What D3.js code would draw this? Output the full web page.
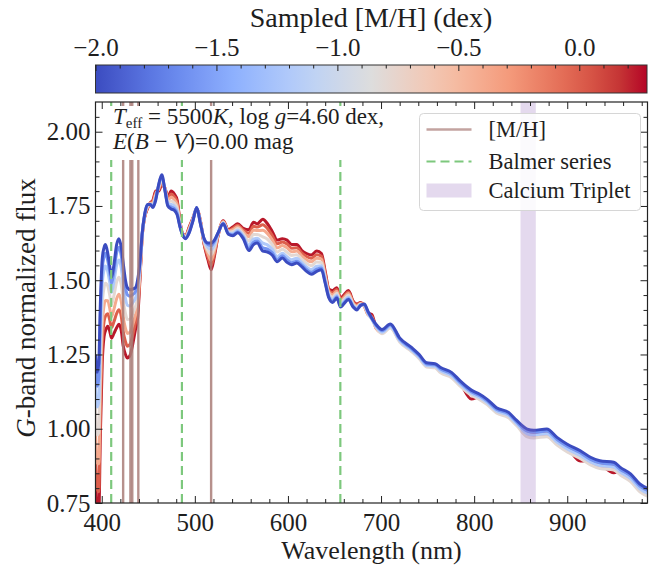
<!DOCTYPE html>
<html>
<head>
<meta charset="utf-8">
<script src="https://cdn.jsdelivr.net/npm/d3@7"></script>
<style>
body { margin: 0; background: #fff; }
svg text { font-family: "Liberation Serif", "DejaVu Serif", serif; fill: #1e1e1e; }
</style>
</head>
<body>
<svg id="chart" width="649" height="567"></svg>
<script>
// ---- data ----
var wavelength = [393.3, 395, 396.8, 398.5, 400.5, 402.5, 404, 406.5, 408.5, 410.5, 413, 416, 418.5, 421, 423, 425.5, 427.5, 430.5, 433, 436, 438.5, 441,
  443.5, 446, 449, 452, 455, 458, 461, 464.5, 468, 471, 474.5, 478, 481, 484, 486.5, 490, 494, 498, 502, 506, 510, 514, 517.5, 521, 525,
  530.5, 536, 541, 546, 552, 558, 563, 567, 573, 578, 583, 588.5, 594, 599, 604, 609.5, 615, 620, 625, 631, 636, 640, 644, 648, 652.5, 656.5, 660, 665, 670, 674, 678, 682, 686, 690, 695,
  701, 710, 720, 733, 741, 749, 758, 764, 776, 785, 797, 806, 814, 824, 837, 846, 857, 864, 878, 889, 900, 914, 925, 935, 950, 957, 968, 978, 988];

var metallicity = [-2.0, -1.6, -1.2, -0.8, -0.4, 0.0, 0.25];

var fluxM20 = [1.25, 1.19, 1.22, 1.42, 1.57, 1.61, 1.62, 1.59, 1.55, 1.51, 1.55, 1.62, 1.64, 1.61, 1.56, 1.50, 1.475, 1.468, 1.47, 1.474, 1.50, 1.56,
  1.66, 1.72, 1.755, 1.755, 1.745, 1.77, 1.82, 1.855, 1.80, 1.75, 1.74, 1.735, 1.72, 1.68, 1.655, 1.64, 1.66, 1.70, 1.745, 1.69, 1.64, 1.625, 1.625, 1.635, 1.66,
  1.69, 1.655, 1.65, 1.66, 1.64, 1.60, 1.62, 1.625, 1.598, 1.595, 1.585, 1.562, 1.575, 1.56, 1.552, 1.558, 1.545, 1.53, 1.52, 1.53, 1.535, 1.49, 1.44, 1.425, 1.44, 1.41, 1.42, 1.435, 1.41, 1.40, 1.415, 1.42, 1.395, 1.373, 1.35,
  1.334, 1.353, 1.306, 1.273, 1.25, 1.222, 1.219, 1.206, 1.189, 1.161, 1.13, 1.116, 1.099, 1.071, 1.055, 1.027, 0.999, 0.995, 0.999, 0.971, 0.948, 0.926, 0.904, 0.892, 0.887, 0.87, 0.848, 0.814, 0.797];

var fluxM16 = [1.211, 1.143, 1.168, 1.376, 1.535, 1.58, 1.591, 1.566, 1.528, 1.49, 1.527, 1.592, 1.611, 1.582, 1.532, 1.475, 1.451, 1.446, 1.451, 1.46, 1.487, 1.554,
  1.659, 1.719, 1.754, 1.756, 1.748, 1.773, 1.818, 1.852, 1.801, 1.753, 1.746, 1.741, 1.725, 1.682, 1.656, 1.641, 1.662, 1.701, 1.745, 1.691, 1.638, 1.62, 1.616, 1.63, 1.659,
  1.691, 1.657, 1.653, 1.663, 1.644, 1.607, 1.628, 1.632, 1.609, 1.605, 1.593, 1.569, 1.582, 1.568, 1.559, 1.564, 1.551, 1.536, 1.527, 1.537, 1.541, 1.494, 1.443, 1.429, 1.444, 1.413, 1.423, 1.438, 1.412, 1.402, 1.416, 1.418, 1.392, 1.371, 1.346,
  1.33, 1.349, 1.302, 1.269, 1.246, 1.218, 1.215, 1.201, 1.184, 1.156, 1.125, 1.111, 1.094, 1.066, 1.05, 1.022, 0.992, 0.988, 0.992, 0.964, 0.941, 0.919, 0.897, 0.885, 0.88, 0.863, 0.841, 0.807, 0.79];

var fluxM12 = [1.153, 1.073, 1.09, 1.31, 1.483, 1.535, 1.548, 1.529, 1.495, 1.459, 1.493, 1.55, 1.568, 1.54, 1.49, 1.438, 1.416, 1.413, 1.423, 1.438, 1.468, 1.545,
  1.658, 1.718, 1.751, 1.756, 1.751, 1.778, 1.815, 1.846, 1.803, 1.758, 1.755, 1.749, 1.733, 1.685, 1.656, 1.643, 1.665, 1.703, 1.744, 1.693, 1.635, 1.611, 1.603, 1.621, 1.658,
  1.693, 1.659, 1.658, 1.668, 1.649, 1.618, 1.639, 1.641, 1.625, 1.619, 1.605, 1.58, 1.591, 1.579, 1.569, 1.574, 1.559, 1.545, 1.536, 1.547, 1.549, 1.50, 1.448, 1.435, 1.449, 1.418, 1.428, 1.443, 1.415, 1.405, 1.418, 1.416, 1.389, 1.369, 1.342,
  1.325, 1.344, 1.297, 1.264, 1.241, 1.213, 1.21, 1.195, 1.178, 1.15, 1.119, 1.105, 1.088, 1.06, 1.044, 1.016, 0.983, 0.979, 0.983, 0.955, 0.932, 0.91, 0.888, 0.876, 0.871, 0.854, 0.832, 0.798, 0.781];

var fluxM08 = [1.075, 0.979, 0.986, 1.222, 1.413, 1.475, 1.49, 1.48, 1.451, 1.418, 1.447, 1.494, 1.51, 1.484, 1.434, 1.388, 1.368, 1.369, 1.385, 1.409, 1.442, 1.533,
  1.656, 1.716, 1.748, 1.757, 1.756, 1.784, 1.811, 1.839, 1.805, 1.764, 1.767, 1.76, 1.743, 1.689, 1.657, 1.645, 1.669, 1.705, 1.743, 1.695, 1.631, 1.60, 1.585, 1.61, 1.656,
  1.695, 1.662, 1.664, 1.674, 1.656, 1.632, 1.654, 1.654, 1.646, 1.638, 1.621, 1.595, 1.604, 1.594, 1.583, 1.586, 1.57, 1.557, 1.549, 1.561, 1.56, 1.508, 1.454, 1.443, 1.456, 1.424, 1.434, 1.449, 1.419, 1.409, 1.42, 1.414, 1.386, 1.37, 1.339,
  1.32, 1.339, 1.292, 1.259, 1.236, 1.208, 1.205, 1.188, 1.171, 1.143, 1.112, 1.098, 1.081, 1.053, 1.037, 1.009, 0.973, 0.969, 0.973, 0.945, 0.922, 0.90, 0.878, 0.866, 0.861, 0.844, 0.822, 0.788, 0.771];

var fluxM04 = [0.997, 0.885, 0.882, 1.134, 1.343, 1.415, 1.432, 1.431, 1.407, 1.377, 1.401, 1.438, 1.453, 1.428, 1.378, 1.338, 1.321, 1.325, 1.347, 1.38, 1.416, 1.521,
  1.654, 1.714, 1.745, 1.758, 1.761, 1.79, 1.807, 1.832, 1.807, 1.77, 1.779, 1.771, 1.753, 1.693, 1.658, 1.647, 1.673, 1.707, 1.742, 1.697, 1.627, 1.589, 1.567, 1.599, 1.654,
  1.697, 1.665, 1.67, 1.68, 1.663, 1.646, 1.669, 1.667, 1.668, 1.657, 1.637, 1.609, 1.617, 1.609, 1.596, 1.598, 1.581, 1.569, 1.562, 1.574, 1.571, 1.516, 1.46, 1.451, 1.463, 1.43, 1.44, 1.455, 1.423, 1.413, 1.422, 1.413, 1.384, 1.374, 1.337,
  1.323, 1.342, 1.295, 1.262, 1.239, 1.211, 1.208, 1.192, 1.175, 1.147, 1.116, 1.102, 1.085, 1.057, 1.041, 1.013, 0.979, 0.975, 0.979, 0.951, 0.928, 0.906, 0.884, 0.872, 0.867, 0.85, 0.828, 0.794, 0.777];

var fluxP00 = [0.926, 0.80, 0.788, 1.055, 1.28, 1.361, 1.379, 1.387, 1.367, 1.34, 1.359, 1.388, 1.401, 1.378, 1.328, 1.293, 1.278, 1.285, 1.312, 1.354, 1.392, 1.51,
  1.652, 1.712, 1.743, 1.759, 1.766, 1.795, 1.803, 1.826, 1.808, 1.775, 1.79, 1.781, 1.762, 1.697, 1.659, 1.648, 1.677, 1.708, 1.741, 1.698, 1.623, 1.579, 1.55, 1.589, 1.652,
  1.698, 1.667, 1.675, 1.685, 1.669, 1.658, 1.682, 1.679, 1.687, 1.674, 1.651, 1.623, 1.629, 1.622, 1.608, 1.609, 1.591, 1.58, 1.574, 1.586, 1.581, 1.523, 1.465, 1.458, 1.469, 1.435, 1.445, 1.46, 1.427, 1.417, 1.423, 1.413, 1.384, 1.379, 1.337,
  1.326, 1.345, 1.298, 1.265, 1.242, 1.214, 1.211, 1.196, 1.179, 1.151, 1.12, 1.106, 1.089, 1.061, 1.045, 1.017, 0.985, 0.981, 0.985, 0.957, 0.934, 0.912, 0.89, 0.878, 0.873, 0.856, 0.834, 0.80, 0.783];

var fluxP25 = [0.86, 0.72, 0.70, 0.98, 1.22, 1.31, 1.33, 1.345, 1.33, 1.305, 1.32, 1.34, 1.352, 1.33, 1.28, 1.25, 1.238, 1.248, 1.28, 1.33, 1.37, 1.50,
  1.65, 1.71, 1.74, 1.76, 1.77, 1.80, 1.80, 1.82, 1.81, 1.78, 1.80, 1.79, 1.77, 1.70, 1.66, 1.65, 1.68, 1.71, 1.74, 1.70, 1.62, 1.57, 1.535, 1.58, 1.65,
  1.70, 1.67, 1.68, 1.69, 1.675, 1.67, 1.695, 1.69, 1.705, 1.69, 1.665, 1.635, 1.64, 1.635, 1.62, 1.62, 1.60, 1.59, 1.585, 1.598, 1.59, 1.53, 1.47, 1.465, 1.475, 1.44, 1.45, 1.465, 1.43, 1.42, 1.425, 1.415, 1.39, 1.385, 1.34,
  1.328, 1.347, 1.30, 1.267, 1.244, 1.216, 1.213, 1.198, 1.181, 1.153, 1.10, 1.108, 1.091, 1.063, 1.047, 1.019, 0.988, 0.984, 0.988, 0.96, 0.937, 0.891, 0.893, 0.881, 0.852, 0.859, 0.837, 0.803, 0.786];

var fluxes = [fluxM20, fluxM16, fluxM12, fluxM08, fluxM04, fluxP00, fluxP25];

var metalLines = [423.0, 430.8, 432.8, 439.3, 517.5];
var balmerLines = [410.17, 486.13, 656.28];
var caTriplet = [849.8, 866.2];

var xTicks = [400, 500, 600, 700, 800, 900];
var yTicks = [0.75, 1.00, 1.25, 1.50, 1.75, 2.00];
var cbarTicks = [-2.0, -1.5, -1.0, -0.5, 0.0];

// ---- layout ----
var svg = d3.select("#chart");
var pL = 95.5, pR = 647.5, pT = 102, pB = 503;

var x = d3.scaleLinear().domain([393.3, 986.2]).range([pL, pR]);
var y = d3.scaleLinear().domain([0.75, 2.1]).range([pB, pT]);
var cb = d3.scaleLinear().domain([-2.0, 0.28]).range([pL, 647]);

// matplotlib coolwarm
var coolwarm = d3.piecewise(d3.interpolateLab, ["rgb(59,76,192)", "rgb(98,130,234)", "rgb(141,176,254)", "rgb(184,208,249)",
  "rgb(221,221,221)", "rgb(245,196,173)", "rgb(244,154,123)", "rgb(222,96,77)", "rgb(180,4,38)"]);
function mhColor(m) { return coolwarm((m - cb.domain()[0]) / (cb.domain()[1] - cb.domain()[0])); }

var minorX = d3.range(400, 987, 20).filter(function(v){ return v % 100 != 0; });
var minorY = d3.range(0.8, 2.1, 0.05).filter(function(v){ return Math.abs(v * 4 - Math.round(v * 4)) > 0.01; });
var minorC = d3.range(-1.9, 0.28, 0.1).filter(function(v){ return Math.abs(v * 2 - Math.round(v * 2)) > 0.01; });

svg.append("clipPath").attr("id", "clip")
  .append("rect").attr("x", pL).attr("y", pT).attr("width", pR - pL).attr("height", pB - pT);

var plot = svg.append("g").attr("clip-path", "url(#clip)");

// spectra: metal-rich first, metal-poor on top
var line = d3.line()
  .x(function(d){ return x(d[0]); })
  .y(function(d){ return y(d[1]); })
  .curve(d3.curveMonotoneX);

for (var i = fluxes.length - 1; i >= 0; i--) {
  var pts = wavelength.map(function(w, j){ return [w, fluxes[i][j]]; });
  plot.append("path").datum(pts)
    .attr("d", line)
    .attr("fill", "none")
    .attr("stroke", mhColor(metallicity[i]))
    .attr("stroke-width", 3)
    .attr("stroke-linejoin", "round");
}

plot.append("rect")
  .attr("x", x(caTriplet[0])).attr("width", x(caTriplet[1]) - x(caTriplet[0]))
  .attr("y", pT).attr("height", pB - pT)
  .attr("fill", "#9467bd").attr("fill-opacity", 0.25);

plot.selectAll(".balmer").data(balmerLines).enter().append("line")
  .attr("x1", x).attr("x2", x).attr("y1", pT).attr("y2", pB)
  .attr("stroke", "rgb(125,200,125)").attr("stroke-width", 2.2).attr("stroke-dasharray", "9,5");

plot.selectAll(".metal").data(metalLines).enter().append("line")
  .attr("x1", x).attr("x2", x).attr("y1", pT).attr("y2", pB)
  .attr("stroke", "#a97c78").attr("stroke-opacity", 0.85).attr("stroke-width", 2.4);

// annotation box
svg.append("rect").attr("x", 100).attr("y", 106).attr("width", 292).attr("height", 54).attr("fill", "#fff");
var ann = svg.append("text").attr("x", 113).attr("y", 124).style("font-size", "23px");
ann.append("tspan").style("font-style", "italic").text("T");
ann.append("tspan").attr("dy", 4).style("font-size", "15px").text("eff");
ann.append("tspan").attr("dy", -4).text(" = 5500");
ann.append("tspan").style("font-style", "italic").text("K");
ann.append("tspan").text(", log ");
ann.append("tspan").style("font-style", "italic").text("g");
ann.append("tspan").text("=4.60 dex,");
var ann2 = svg.append("text").attr("x", 113).attr("y", 149).style("font-size", "23px");
ann2.append("tspan").style("font-style", "italic").text("E");
ann2.append("tspan").text("(");
ann2.append("tspan").style("font-style", "italic").text("B");
ann2.append("tspan").text(" \u2212 ");
ann2.append("tspan").style("font-style", "italic").text("V");
ann2.append("tspan").text(")=0.00 mag");

// axes, ticks inward on all four sides
function styleAxis(g) {
  g.select(".domain").remove();
  g.selectAll(".tick line").attr("stroke", "#222");
  g.selectAll(".tick text").attr("fill", "#1e1e1e").style("font-family", "'Liberation Serif', serif").style("font-size", "25px");
}
svg.append("g").attr("transform", "translate(0," + pB + ")")
  .call(d3.axisBottom(x).tickValues(xTicks).tickSizeInner(-7).tickSizeOuter(0).tickPadding(10).tickFormat(d3.format("d")))
  .call(styleAxis);
svg.append("g").attr("transform", "translate(0," + pB + ")")
  .call(d3.axisBottom(x).tickValues(minorX).tickSizeInner(-4).tickSizeOuter(0).tickFormat(""))
  .call(styleAxis);
svg.append("g").attr("transform", "translate(0," + pT + ")")
  .call(d3.axisTop(x).tickValues(xTicks).tickSizeInner(-7).tickSizeOuter(0).tickFormat(""))
  .call(styleAxis);
svg.append("g").attr("transform", "translate(0," + pT + ")")
  .call(d3.axisTop(x).tickValues(minorX).tickSizeInner(-4).tickSizeOuter(0).tickFormat(""))
  .call(styleAxis);
svg.append("g").attr("transform", "translate(" + pL + ",0)")
  .call(d3.axisLeft(y).tickValues(yTicks).tickSizeInner(-7).tickSizeOuter(0).tickPadding(5).tickFormat(d3.format(".2f")))
  .call(styleAxis);
svg.append("g").attr("transform", "translate(" + pL + ",0)")
  .call(d3.axisLeft(y).tickValues(minorY).tickSizeInner(-4).tickSizeOuter(0).tickFormat(""))
  .call(styleAxis);
svg.append("g").attr("transform", "translate(" + pR + ",0)")
  .call(d3.axisRight(y).tickValues(yTicks).tickSizeInner(-7).tickSizeOuter(0).tickFormat(""))
  .call(styleAxis);
svg.append("g").attr("transform", "translate(" + pR + ",0)")
  .call(d3.axisRight(y).tickValues(minorY).tickSizeInner(-4).tickSizeOuter(0).tickFormat(""))
  .call(styleAxis);

svg.append("rect").attr("x", pL).attr("y", pT).attr("width", pR - pL).attr("height", pB - pT)
  .attr("fill", "none").attr("stroke", "#222").attr("stroke-width", 1.2);

// legend
var lg = svg.append("g").attr("transform", "translate(419.5,113.5)");
lg.append("rect").attr("width", 221).attr("height", 97).attr("rx", 4)
  .attr("fill", "#fff").attr("fill-opacity", 0.85).attr("stroke", "#d6d6d6");
lg.append("line").attr("x1", 7).attr("x2", 52).attr("y1", 16).attr("y2", 16)
  .attr("stroke", "#a97c78").attr("stroke-opacity", 0.7).attr("stroke-width", 2.4);
lg.append("line").attr("x1", 7).attr("x2", 52).attr("y1", 48).attr("y2", 48)
  .attr("stroke", "rgb(125,200,125)").attr("stroke-width", 2.2).attr("stroke-dasharray", "9,5");
lg.append("rect").attr("x", 7).attr("y", 70).attr("width", 45).attr("height", 14)
  .attr("fill", "#9467bd").attr("fill-opacity", 0.25);
var legendText = ["[M/H]", "Balmer series", "Calcium Triplet"];
var legendY = [23, 55, 84];
legendText.forEach(function(t, k){
  lg.append("text").attr("x", 69).attr("y", legendY[k]).style("font-size", "22.5px").text(t);
});

// colorbar
var grad = svg.append("defs").append("linearGradient").attr("id", "cw");
d3.range(0, 1.0001, 0.05).forEach(function(t){
  grad.append("stop").attr("offset", t).attr("stop-color", coolwarm(t));
});
svg.append("rect").attr("x", pL).attr("y", 65).attr("width", 647 - pL).attr("height", 28)
  .attr("fill", "url(#cw)").attr("stroke", "#333").attr("stroke-width", 1);
svg.append("g").attr("transform", "translate(0,65)")
  .call(d3.axisTop(cb).tickValues(cbarTicks).tickSizeInner(-6).tickSizeOuter(0).tickPadding(9).tickFormat(d3.format(".1f")))
  .call(styleAxis);
svg.append("g").attr("transform", "translate(0,65)")
  .call(d3.axisTop(cb).tickValues(minorC).tickSizeInner(-3.5).tickSizeOuter(0).tickFormat(""))
  .call(styleAxis);

// titles
svg.append("text").attr("x", 371).attr("y", 27).attr("text-anchor", "middle")
  .style("font-size", "28px").text("Sampled [M/H] (dex)");
svg.append("text").attr("x", 371.5).attr("y", 559).attr("text-anchor", "middle")
  .style("font-size", "26px").text("Wavelength (nm)");
var yl = svg.append("text").attr("transform", "translate(35,308) rotate(-90)").attr("text-anchor", "middle")
  .style("font-size", "27px");
yl.append("tspan").style("font-style", "italic").text("G");
yl.append("tspan").text("-band normalized flux");
</script>
</body>
</html>
